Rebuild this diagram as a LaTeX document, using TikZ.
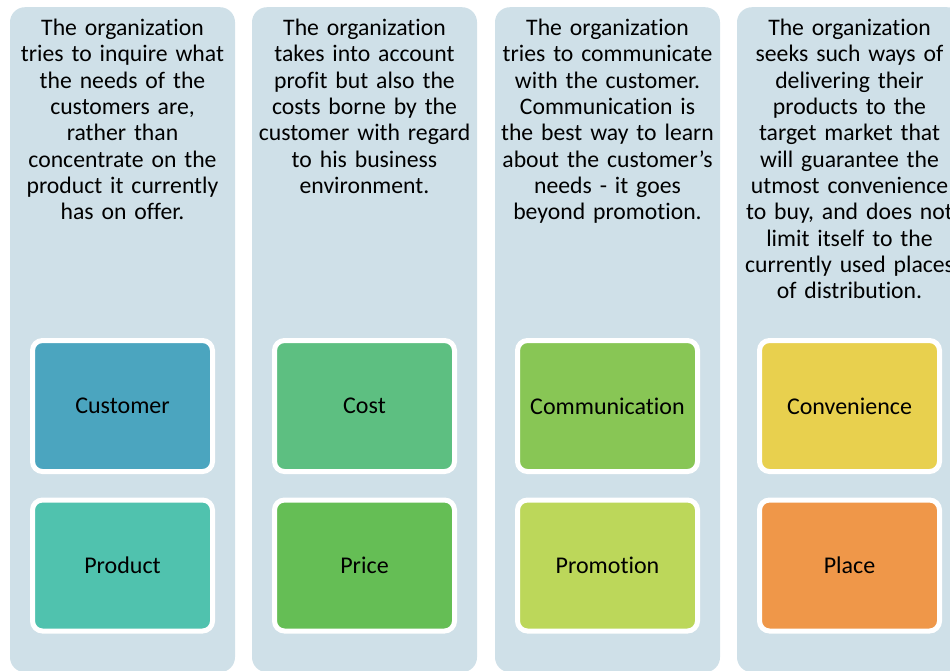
\documentclass[tikz,border=0pt]{standalone}
\usepackage{fontspec}
\setmainfont{Carlito}[Ligatures={NoCommon,NoContextual,NoRare},Contextuals=NoAlternate]
\usetikzlibrary{positioning}

\definecolor{colbg}{HTML}{CFE0E8}
\definecolor{custc}{HTML}{4BA5BF}
\definecolor{prodc}{HTML}{50C2AE}
\definecolor{costc}{HTML}{5DBF81}
\definecolor{pricec}{HTML}{65BE55}
\definecolor{commc}{HTML}{88C655}
\definecolor{promoc}{HTML}{BCD75A}
\definecolor{convc}{HTML}{E8D04E}
\definecolor{placec}{HTML}{EF9749}

\begin{document}
\begin{tikzpicture}[x=1pt,y=-1pt,
  column/.style={fill=colbg,rounded corners=15pt,minimum width=225pt,minimum height=665pt,inner sep=0pt,anchor=north},
  desc/.style={text width=270pt,align=center,inner sep=0pt,anchor=north,font=\fontsize{23.7}{26.3}\selectfont},
  tile/.style={draw=white,line width=5pt,rounded corners=10pt,minimum width=180pt,minimum height=131pt,inner sep=0pt,font=\fontsize{24}{26}\selectfont}]
  \useasboundingbox (0,0) rectangle (950,670);
  % columns
  \node[column] (col1) at (122.5,7) {};
  \node[column] (col2) at (364.5,7) {};
  \node[column] (col3) at (607.5,7) {};
  \node[column] (col4) at (849.5,7) {};
  % descriptions
  \node[desc] (txt1) at (122.5,19) {The organization\\tries to inquire what\\the needs of the\\customers are,\\rather than\\concentrate on the\\product it currently\\has on offer.};
  \node[desc] (txt2) at (364.5,19) {The organization\\takes into account\\profit but also the\\costs borne by the\\customer with regard\\to his business\\environment.};
  \node[desc] (txt3) at (607.5,19) {The organization\\tries to communicate\\with the customer.\\Communication is\\the best way to learn\\about the customer's\\needs - it goes\\beyond promotion.};
  \node[desc] (txt4) at (849.5,19) {The organization\\seeks such ways of\\delivering their\\products to the\\target market that\\will guarantee the\\utmost convenience\\to buy, and does not\\limit itself to the\\currently used places\\of distribution.};
  % tiles
  \node[tile,fill=custc] (cust) at (122.5,406) {Customer};
  \node[tile,fill=prodc] (prod) at (122.5,565.5) {Product};
  \node[tile,fill=costc] (cost) at (364.5,406) {Cost};
  \node[tile,fill=pricec] (price) at (364.5,565.5) {Price};
  \node[tile,fill=commc] (comm) at (607.5,406) {Communication};
  \node[tile,fill=promoc] (promo) at (607.5,565.5) {Promotion};
  \node[tile,fill=convc] (conv) at (849.5,406) {Convenience};
  \node[tile,fill=placec] (place) at (849.5,565.5) {Place};
\end{tikzpicture}
\end{document}
